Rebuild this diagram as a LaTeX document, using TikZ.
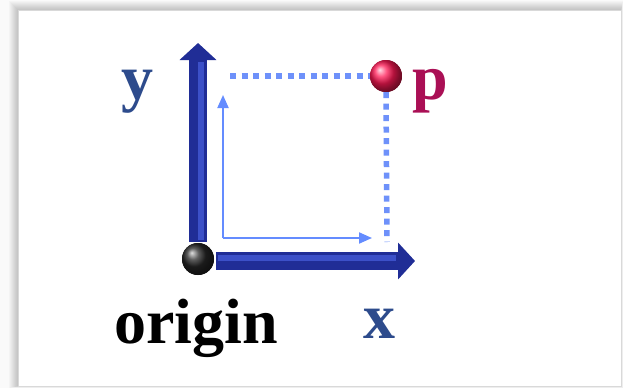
\documentclass[tikz,border=0pt]{standalone}
\usepackage{fontspec}
\setmainfont{Liberation Serif}
\usetikzlibrary{arrows.meta,shadings}
\definecolor{axisblue}{RGB}{32,45,150}
\definecolor{axislight}{RGB}{60,80,200}
\definecolor{thinblue}{RGB}{100,140,255}
\definecolor{dotblue}{RGB}{110,145,250}
\definecolor{labblue}{RGB}{45,75,140}
\definecolor{labred}{RGB}{170,15,85}
\definecolor{pred}{RGB}{255,25,85}
\tikzset{
  bigaxis/.style={line width=18pt, draw=axisblue, -{Triangle[length=17pt,width=36pt]}},
  bigshine/.style={line width=6pt, draw=axislight},
  thinaxis/.style={line width=2pt, draw=thinblue, -{Triangle[length=13pt,width=11pt]}},
  dotline/.style={line width=5.5pt, draw=dotblue, dash pattern=on 6pt off 5.5pt},
  lab/.style={font=\fontsize{64}{66}\selectfont\bfseries, inner sep=0pt, anchor=base},
  ballnode/.style={circle, minimum size=32pt, inner sep=0pt, shading=ball}
}
\begin{document}
\begin{tikzpicture}[x=1pt,y=-1pt]
\useasboundingbox (0,0) rectangle (623,388);
\fill[gray!4] (0,0) rectangle (623,388);
% panel shadow
\foreach \i in {1,...,9}{
  \fill[black, opacity=0.025] (18-\i,10-\i) rectangle (621+\i*0.2,386+\i*0.2);
}
\fill[white] (18,10) rectangle (621,386);
\draw[gray!30, line width=0.8pt] (18,10) rectangle (621,386);
% nodes
\node[ballnode, ball color=black!85] (o) at (198,259) {};
\node[ballnode, ball color=pred] (p) at (386,76) {};
\coordinate (ytip) at (198,43);
\coordinate (xtip) at (415,261);
\coordinate (ystart) at (198,242);
\coordinate (xstart) at (216,261);
\coordinate (c) at (223,238);
\coordinate (cy) at (223,95);
\coordinate (cx) at (372,238);
\coordinate (dh) at (230,76);
\coordinate (dv) at (387,242);
% big axes
\draw[bigaxis] (ystart) -- (ytip);
\draw[bigshine] (201,240) -- (201,62);
\draw[bigaxis] (xstart) -- (xtip);
\draw[bigshine] (218,258) -- (396,258);
\node[ballnode, ball color=black!85] at (o) {};
% thin arrows
\draw[thinaxis] (c) -- (cy);
\draw[thinaxis] (c) -- (cx);
% dotted lines
\draw[dotline] (dh) -- (p.west);
\draw[dotline] (p.south) -- (dv);
\node[ballnode, ball color=pred] at (p) {};
% labels
\node[lab, text=labblue] (ylab) at (137,99) {y};
\node[lab, text=labred] (plab) at (430,99) {p};
\node[lab, text=black] (olab) at (196,343) {origin};
\node[lab, text=labblue] (xlab) at (379,338) {x};
\end{tikzpicture}
\end{document}
